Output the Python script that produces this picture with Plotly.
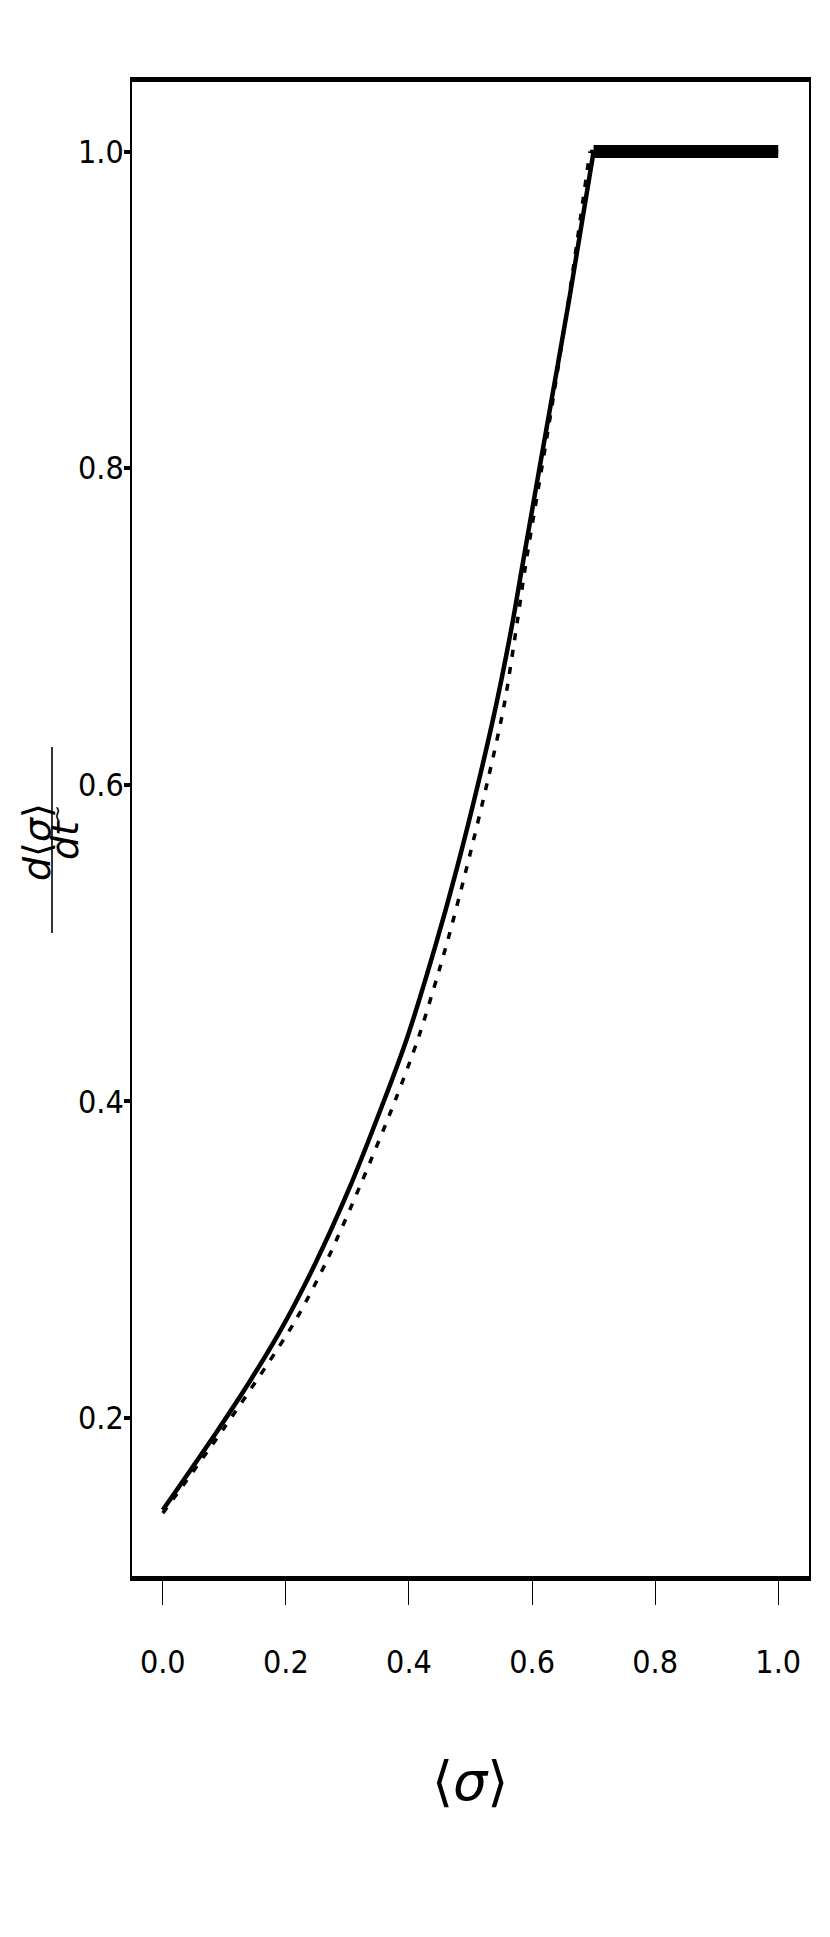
import plotly.graph_objects as go

# ---- data ----
sigma_solid = [0.000, 0.087, 0.141, 0.195, 0.247, 0.304, 0.358, 0.396, 0.442, 0.477,
               0.515, 0.542, 0.569, 0.585, 0.623, 0.661, 0.700, 1.000]
rate_solid = [0.142, 0.191, 0.223, 0.258, 0.297, 0.346, 0.399, 0.439, 0.497, 0.546,
              0.605, 0.651, 0.704, 0.740, 0.824, 0.908, 1.000, 1.000]

sigma_dotted = [0.000, 0.100, 0.213, 0.266, 0.322, 0.378, 0.416, 0.461, 0.494, 0.530,
                0.555, 0.576, 0.590, 0.626, 0.660, 0.694, 1.000]
rate_dotted = [0.140, 0.194, 0.260, 0.299, 0.348, 0.401, 0.441, 0.499, 0.548, 0.606,
               0.651, 0.703, 0.740, 0.824, 0.908, 1.000, 1.000]

x_ticks = [0.0, 0.2, 0.4, 0.6, 0.8, 1.0]
x_tick_labels = ["0.0", "0.2", "0.4", "0.6", "0.8", "1.0"]
y_ticks = [0.2, 0.4, 0.6, 0.8, 1.0]
y_tick_labels = ["0.2", "0.4", "0.6", "0.8", "1.0"]

# ---- layout geometry (page pixels; the page body adds an 8px offset) ----
OFF = 8
W, H = 830 - 2 * OFF, 1937 - 2 * OFF
PL, PR, PT, PB = 132, 809, 82, 1576          # plot box on the page
L, T = PL - OFF, PT - OFF
R, B = W - (PR - OFF), H - (PB - OFF)
PW, PH = W - L - R, H - T - B

def px(x):
    return (x - OFF - L) / PW

def py(y):
    return 1 - (y - OFF - T) / PH

FONT = "DejaVu Sans Condensed, Liberation Sans Narrow, DejaVu Sans, sans-serif"

fig = go.Figure()

# dotted series: rising part + plateau
kd = rate_dotted.index(1.0)
fig.add_trace(go.Scatter(
    x=sigma_dotted[:kd + 1], y=rate_dotted[:kd + 1], mode="lines",
    line=dict(color="black", width=3.5, dash="7px,10px", shape="spline", smoothing=0.8),
    showlegend=False, hoverinfo="skip"))
fig.add_trace(go.Scatter(
    x=sigma_dotted[kd:], y=rate_dotted[kd:], mode="lines",
    line=dict(color="black", width=3.5, dash="7px,10px"),
    showlegend=False, hoverinfo="skip"))

# solid series: rising part
k = rate_solid.index(1.0)
fig.add_trace(go.Scatter(
    x=sigma_solid[:k + 1], y=rate_solid[:k + 1], mode="lines",
    line=dict(color="black", width=4.5, shape="spline", smoothing=0.8),
    showlegend=False, hoverinfo="skip"))
# solid series: plateau (drawn heavier as in the reference)
fig.add_trace(go.Scatter(
    x=sigma_solid[k:], y=rate_solid[k:], mode="lines",
    line=dict(color="black", width=13),
    showlegend=False, hoverinfo="skip"))

fig.update_layout(
    width=W, height=H,
    margin=dict(l=L, r=R, t=T, b=B, autoexpand=False),
    paper_bgcolor="white", plot_bgcolor="white",
    font=dict(family=FONT, color="black"),
    xaxis=dict(
        range=[-0.05, 1.05], tickvals=x_ticks, ticktext=x_tick_labels,
        showgrid=False, zeroline=False, automargin=False,
        showline=True, linecolor="black", linewidth=5, mirror=True,
        ticks="outside", ticklen=24, tickwidth=1.3, tickcolor="black",
        tickfont=dict(size=32, family=FONT), ticklabelstandoff=30,
    ),
    yaxis=dict(
        range=[0.1003, 1.0439], tickvals=y_ticks, ticktext=y_tick_labels,
        showgrid=False, zeroline=False, automargin=False,
        showline=True, linecolor="black", linewidth=1.6, mirror=True,
        ticks="outside", ticklen=6, tickwidth=4, tickcolor="black",
        tickfont=dict(size=32, family=FONT), ticklabelstandoff=-6,
    ),
)

# x-axis title
fig.add_annotation(text="⟨<i>σ</i>⟩", xref="paper", yref="paper",
                   x=px(470), y=py(1781), xanchor="center", yanchor="middle",
                   showarrow=False, font=dict(size=54, family="DejaVu Sans", color="black"))

# y-axis title as a rotated fraction
fig.add_annotation(text="<i>d</i>⟨<i>σ</i>⟩", xref="paper", yref="paper",
                   x=px(37), y=py(842), xanchor="center", yanchor="middle", textangle=-90,
                   showarrow=False, font=dict(size=38, family="DejaVu Sans", color="black"))
fig.add_annotation(text="<i>dt</i>", xref="paper", yref="paper",
                   x=px(65), y=py(840), xanchor="center", yanchor="middle", textangle=-90,
                   showarrow=False, font=dict(size=38, family="DejaVu Sans", color="black"))
fig.add_annotation(text="~", xref="paper", yref="paper",
                   x=px(57), y=py(814), xanchor="center", yanchor="middle", textangle=-90,
                   showarrow=False, font=dict(size=20, family="DejaVu Sans", color="black"))
fig.add_shape(type="line", xref="paper", yref="paper",
              x0=px(52), x1=px(52), y0=py(747), y1=py(933),
              line=dict(color="black", width=1.6))

fig.write_html("out.html")
